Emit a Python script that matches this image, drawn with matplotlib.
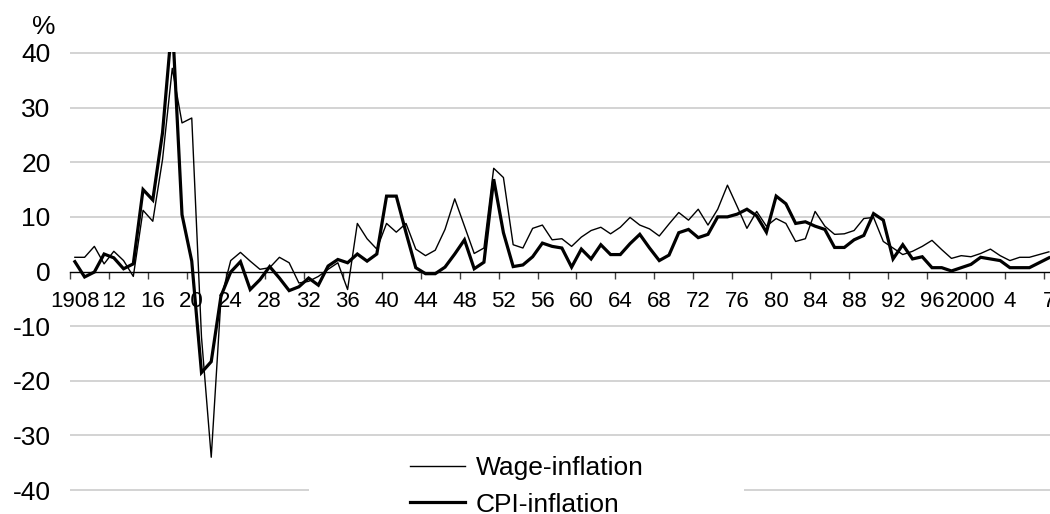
import matplotlib
matplotlib.use("Agg")
import matplotlib.pyplot as plt
from matplotlib.patches import Rectangle
import numpy as np

plt.rcParams['font.family'] = ['Liberation Sans', 'DejaVu Sans']

# ---- data (1908 .. ) ----
wage = [2.6, 2.6, 4.6, 1.4, 3.7, 2.0, -0.9, 11.2, 9.2, 20.5, 37.2, 27.2, 28.1,
        -12.0, -34.0, -5.0, 2.0, 3.5, 1.9, 0.4, 0.7, 2.6, 1.6, -2.1, -1.8, -0.9,
        0.4, 1.6, -3.3, 8.8, 6.0, 4.1, 8.8, 7.2, 8.8, 4.1, 2.9, 3.9, 7.7, 13.3,
        8.3, 3.3, 4.3, 18.9, 17.2, 4.9, 4.3, 7.9, 8.5, 5.8, 6.0, 4.6, 6.3, 7.5,
        8.1, 6.9, 8.1, 9.9, 8.5, 7.8, 6.5, 8.7, 10.8, 9.4, 11.4, 8.5, 11.4, 15.8,
        11.9, 7.9, 11.0, 8.3, 9.7, 8.8, 5.5, 6.0, 11.0, 8.3, 6.8, 6.9, 7.5, 9.7,
        9.9, 5.5, 4.3, 3.1, 3.7, 4.6, 5.7, 4.0, 2.4, 2.9, 2.7, 3.3, 4.1, 2.9,
        2.0, 2.6, 2.6, 3.1, 3.6]
cpi = [1.8, -1.0, -0.1, 3.2, 2.5, 0.5, 1.4, 15.0, 13.1, 25.4, 46.0, 10.4, 1.9,
       -18.5, -16.5, -4.5, -0.1, 1.8, -3.3, -1.5, 0.9, -1.2, -3.5, -2.8, -1.2,
       -2.5, 1.0, 2.2, 1.6, 3.2, 1.9, 3.2, 13.8, 13.8, 7.1, 0.7, -0.4, -0.4, 0.8,
       3.2, 5.8, 0.5, 1.7, 16.9, 7.1, 0.9, 1.2, 2.7, 5.2, 4.6, 4.3, 0.8, 4.1,
       2.3, 4.9, 3.1, 3.1, 5.1, 6.8, 4.3, 2.0, 3.0, 7.1, 7.7, 6.2, 6.8, 10.0,
       10.0, 10.5, 11.4, 10.2, 7.2, 13.8, 12.4, 8.8, 9.1, 8.3, 7.7, 4.4, 4.4,
       5.8, 6.6, 10.6, 9.4, 2.3, 4.9, 2.3, 2.7, 0.7, 0.7, 0.1, 0.7, 1.3, 2.6,
       2.3, 2.0, 0.7, 0.7, 0.7, 1.6, 2.5]
tick_labels = ["1908", "12", "16", "20", "24", "28", "32", "36", "40", "44",
               "48", "52", "56", "60", "64", "68", "72", "76", "80", "84",
               "88", "92", "96", "2000", "4", "7"]
y_ticks = [-40, -30, -20, -10, 0, 10, 20, 30, 40]

W, H = 1050, 514
fig = plt.figure(figsize=(W / 100, H / 100), dpi=100)

ppu = 9.74  # px per category
y_top, y_bot = 40.2, -40.5
ypx = 5.475
ax_left = 70
ax_right = 70 + 101 * ppu
ax_top = 53 - (y_top - 40) * ypx
ax_bottom = 490 + (-40 - y_bot) * ypx
ax = fig.add_axes([ax_left / W, 1 - ax_bottom / H,
                   (ax_right - ax_left) / W, (ax_bottom - ax_top) / H])

x = np.arange(len(wage))
ax.plot(x, wage, color='black', lw=1.0, label='Wage-inflation', zorder=3)
ax.plot(x, cpi, color='black', lw=2.3, label='CPI-inflation', zorder=4,
        solid_joinstyle='miter')

ax.set_xlim(-0.5, 100.5)
ax.set_ylim(y_bot, y_top)

for s in ['top', 'right', 'left']:
    ax.spines[s].set_visible(False)
ax.spines['bottom'].set_position(('data', 0))
ax.spines['bottom'].set_color('black')
ax.spines['bottom'].set_linewidth(1.0)
ax.spines['bottom'].set_zorder(2)

# grid
for v in y_ticks:
    if v != 0:
        ax.axhline(v, color='#c8c8c8', lw=1.1, zorder=1)

ax.set_yticks(y_ticks)
ax.set_yticklabels([str(v) for v in y_ticks])
ax.tick_params(axis='y', length=0, pad=14, labelsize=19)

# x ticks: marks at boundaries, labels at categories
ax.set_xticks(np.arange(-0.5, 101, 4))
ax.set_xticklabels([])
ax.tick_params(axis='x', which='major', length=5, width=1, color='#404040',
               direction='out')
ax.set_xticks(np.arange(0, 101, 4), minor=True)
ax.set_xticklabels(tick_labels, minor=True)
ax.tick_params(axis='x', which='minor', length=0, pad=14, labelsize=16)

fig.text(44 / W, 1 - 27 / H, '%', fontsize=19, ha='center', va='center')

# legend background
fig.patches.append(Rectangle((309 / W, 0), (744 - 309) / W, (514 - 443) / H,
                             transform=fig.transFigure, facecolor='white',
                             edgecolor='none', zorder=5))
leg = fig.legend(loc='upper left', bbox_to_anchor=(410 / W, 1 - 456 / H),
                 frameon=False, fontsize=19, handlelength=2.1,
                 handletextpad=0.4, labelspacing=0.48, borderpad=0,
                 borderaxespad=0)
leg.set_zorder(6)

fig.savefig('out.png', dpi=100)
